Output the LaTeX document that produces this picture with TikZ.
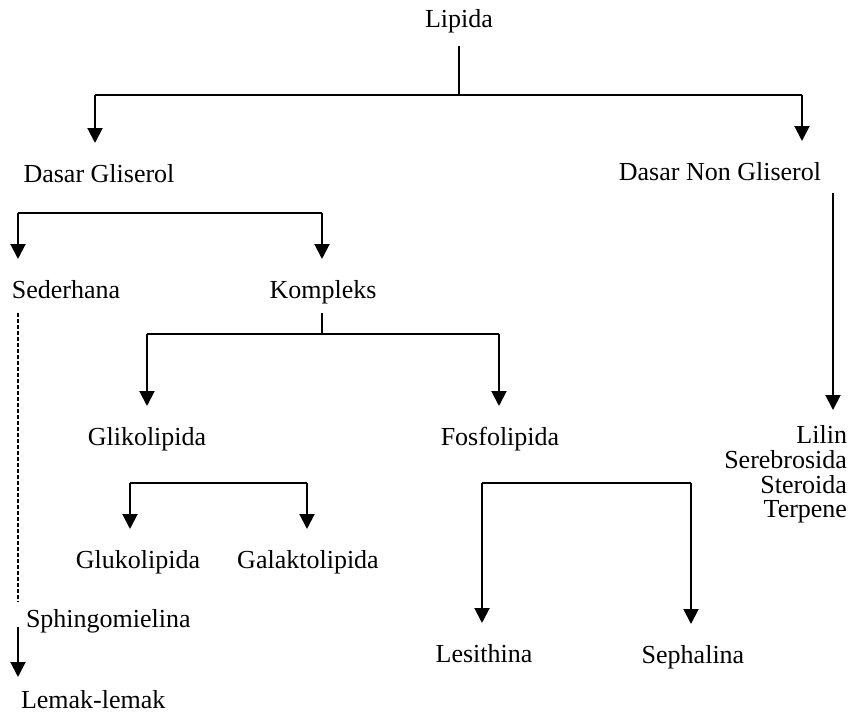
\documentclass[tikz,border=0pt]{standalone}
\usepackage{fontspec}
\setmainfont{Liberation Serif}
\usetikzlibrary{arrows.meta}
\tikzset{
  txt/.style={inner sep=0pt,text height=9pt,text depth=3pt,anchor=base},
  arr/.style={-{Triangle[width=7.5pt,length=7.5pt]},shorten >=10pt},
}

\begin{document}
\begin{tikzpicture}[x=0.5pt,y=-0.5pt,line width=1pt,
    font=\fontsize{13}{15}\selectfont]
  \useasboundingbox (0,0) rectangle (858,712);
  % labels
  \node[txt] (lipida) at (459,27) {Lipida};
  \node[txt] (gliserol) at (99,182) {Dasar Gliserol};
  \node[txt] (nongliserol) at (720,180) {Dasar Non Gliserol};
  \node[txt] (sederhana) at (66,298) {Sederhana};
  \node[txt] (kompleks) at (323,298) {Kompleks};
  \node[txt] (glikolipida) at (147,445) {Glikolipida};
  \node[txt] (fosfolipida) at (500,445) {Fosfolipida};
  \node[txt] (glukolipida) at (138,568) {Glukolipida};
  \node[txt] (galaktolipida) at (308,568) {Galaktolipida};
  \node[txt] (lesithina) at (484,662) {Lesithina};
  \node[txt] (sephalina) at (693,663) {Sephalina};
  \node[txt,anchor=base west] (sphingo) at (25,627) {Sphingomielina};
  \node[txt,anchor=base west] (lemak) at (20,708) {Lemak-lemak};
  \node[txt,anchor=base east] (lilin) at (848,443) {Lilin};
  \node[txt,anchor=base east] (serebrosida) at (848,468) {Serebrosida};
  \node[txt,anchor=base east] (steroida) at (848,493) {Steroida};
  \node[txt,anchor=base east] (terpene) at (848,517) {Terpene};

  % forks
  \coordinate (lipL) at (95,95);  \coordinate (lipR) at (802,95);
  \coordinate (glsL) at (18,213); \coordinate (glsR) at (322,213);
  \coordinate (kpsL) at (147,334); \coordinate (kpsR) at (499,334);
  \coordinate (glkL) at (130,483); \coordinate (glkR) at (307,483);
  \coordinate (fsfL) at (482,483); \coordinate (fsfR) at (691,483);
  \coordinate (ngTip) at (833,410);
  \coordinate (sdEnd) at (18,602);
  \coordinate (lmTip) at (18,677);

  \draw[shorten <=6pt] (lipida.south) -- (lipida.south |- lipL);
  \draw (lipL) -- (lipR);
  \draw[arr] (lipL) -- (lipL |- gliserol.north);
  \draw[arr] (lipR) -- (lipR |- nongliserol.north);

  \draw (glsL) -- (glsR);
  \draw[arr] (glsL) -- (glsL |- sederhana.north);
  \draw[arr] (glsR) -- (glsR |- kompleks.north);

  \draw[shorten <=4pt] (kompleks.south -| glsR) -- (glsR |- kpsL);
  \draw (kpsL) -- (kpsR);
  \draw[arr] (kpsL) -- (kpsL |- glikolipida.north);
  \draw[arr] (kpsR) -- (kpsR |- fosfolipida.north);

  \draw (glkL) -- (glkR);
  \draw[arr] (glkL) -- (glkL |- glukolipida.north);
  \draw[arr] (glkR) -- (glkR |- galaktolipida.north);

  \draw (fsfL) -- (fsfR);
  \draw[arr] (fsfL) -- (fsfL |- lesithina.north);
  \draw[arr] (fsfR) -- (fsfR |- sephalina.north);

  \draw[arr,shorten <=3pt,shorten >=0pt] (nongliserol.south -| ngTip) -- (ngTip);
  \draw[line width=0.9pt,dash pattern=on 2pt off 1pt,shorten <=4pt]
    (sederhana.south -| sdEnd) -- (sdEnd);
  \draw[arr,shorten >=0pt] (sphingo.base -| lmTip) -- (lmTip);
\end{tikzpicture}
\end{document}
